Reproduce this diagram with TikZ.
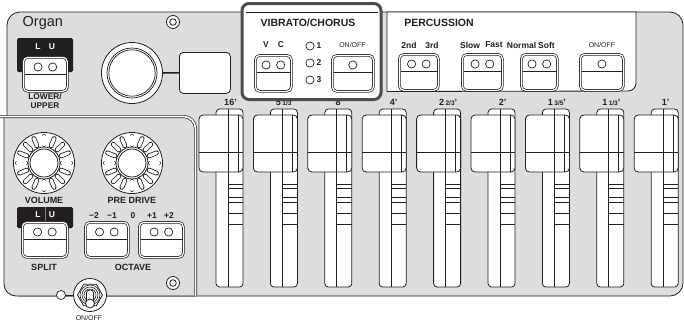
\documentclass[tikz,border=0pt]{standalone}
\usepackage{fontspec}
\setmainfont{Liberation Sans}
\usetikzlibrary{calc}
\definecolor{panel}{HTML}{DCDDDD}
\definecolor{ink}{HTML}{231F20}
\definecolor{hl}{HTML}{4D4D4D}
\newcommand\fsz[1]{\fontsize{#1}{#1}\selectfont}
\newcommand\frsm[1]{{\fontsize{6.5}{6.5}\selectfont #1}}
\newcommand\twobtn[5]{%
  \node[btn, minimum width=#4pt, minimum height=#5pt, anchor=north west] (#1) at (#2,#3) {};
  \draw[ln] ($(#1.north west)+(1.6,17)$) -- ($(#1.north east)+(-1.6,17)$);
  \draw[led] ($(#1.north)+(-7.3,10)$) circle (4.1);
  \draw[led] ($(#1.north)+(7.3,10)$) circle (4.1);}
\newcommand\onebtn[5]{%
  \node[btn, minimum width=#4pt, minimum height=#5pt, anchor=north west] (#1) at (#2,#3) {};
  \draw[ln] ($(#1.north west)+(1.6,17)$) -- ($(#1.north east)+(-1.6,17)$);
  \draw[led] ($(#1.north)+(0,10)$) circle (4.1);}
\newcommand\knob[3]{%
  \coordinate (#1) at (#2,#3);
  \draw[ln, fill=white] (#1) circle (30.5);
  \foreach \a in {0,22.5,...,337.5}{
    \draw[ink, line width=4.8pt, line cap=round] ($(#1)+(\a:18.5)$) -- ($(#1)+(\a:26.5)$);
    \draw[white, line width=3.2pt, line cap=round] ($(#1)+(\a:18.5)$) -- ($(#1)+(\a:26.5)$);}
  \draw[ln, fill=white] (#1) circle (16);
  \draw[ln] (#1) circle (14);}
\begin{document}
\begin{tikzpicture}[x=1pt,y=-1pt, line join=round,
  every node/.style={inner sep=0pt, text=ink},
  ln/.style={draw=ink, line width=0.8pt},
  btn/.style={draw=ink, line width=0.7pt, double=white, double distance=1.2pt, fill=white, rounded corners=4.5pt},
  led/.style={draw=ink, line width=0.7pt, fill=white},
  ttl/.style={font=\fsz{10.5}\bfseries},
  lbl/.style={font=\fsz{8.5}\bfseries},
  sml/.style={font=\fsz{7}},
  sec/.style={font=\fsz{9}\bfseries},
  flab/.style={font=\fsz{9}\bfseries}]
\useasboundingbox (0,0) rectangle (684,325);
% main panel
\draw[ln, fill=panel, rounded corners=13pt] (7,12) rectangle (683,296);
% lower-left sub-panel
\fill[panel] (4,116.5) -- (4,284) arc[start angle=180,end angle=90,radius=12] -- (195.5,296) -- (195.5,128.5) arc[start angle=0,end angle=-90,radius=12] -- cycle;
\draw[ln] (4,116.5) -- (4,284) arc[start angle=180,end angle=90,radius=12] -- (195.5,296);
\draw[ln, line width=0.7pt, double=white, double distance=1.6pt] (0,116.5) -- (183.5,116.5) arc[start angle=-90,end angle=0,radius=12] -- (195.5,296);
% top-left
\node[font=\fsz{14.5}, anchor=west] (organ) at (22.5,23) {Organ};
\draw[ln, fill=white] (173,22) circle (6.5);
\draw[ln] (173,22) circle (3.3);
\fill[ink, rounded corners=1.5pt] (17,38) rectangle (73,72);
\node[lbl, text=white] (lul) at (38,47) {L};
\node[lbl, text=white] (luu) at (52,47) {U};
\twobtn{lub}{23}{57}{44}{34}
\node[font=\fontsize{8.3}{9}\selectfont\bfseries, align=center] (lowup) at (45,101.5) {LOWER/\\UPPER};
\draw[ln, fill=white] (132,73) circle (30.5);
\draw[ln, line width=0.7pt] (132,73) circle (25) (132,73) circle (23.2);
\node[ln, fill=white, rounded corners=4pt, minimum width=51pt, minimum height=41pt, anchor=north west] (disp) at (179,52) {};
\draw[ink, line width=1.5pt] (162.5,73) -- (disp.west);
% drawbar labels
\node[flab] (f0) at (230.5,102) {16'};
\node[flab] (f1) at (284.9,102.5) {5\,\frsm{1/3}'};
\node[flab] (f2) at (339.3,102.5) {8'};
\node[flab] (f3) at (393.7,102) {4'};
\node[flab] (f4) at (448.1,102) {2\,\frsm{2/3}'};
\node[flab] (f5) at (502.5,102) {2'};
\node[flab] (f6) at (556.9,102) {1\,\frsm{3/5}'};
\node[flab] (f7) at (611.3,102) {1\,\frsm{1/3}'};
\node[flab] (f8) at (665.7,102) {1'};
% vibrato / chorus
\draw[draw=hl, line width=3pt, fill=white, rounded corners=7pt] (242,3.5) rectangle (381,99.5);
\draw[ink, line width=0.6pt] (245.5,12) -- (377.5,12);
\node[ttl] (vibt) at (308,22.5) {VIBRATO/CHORUS};
\node[lbl] (vl) at (266,45) {V};
\node[lbl] (cl) at (281,45) {C};
\twobtn{vcb}{255}{55}{36}{36}
\foreach \n/\yy in {1/46,2/63,3/80}{
  \node[led, circle, minimum size=8.2pt] (vled\n) at (310,\yy) {};
  \node[lbl, anchor=west] (vnum\n) at (316.5,\yy) {\n};}
\node[sml] (vonl) at (352.5,45) {ON/OFF};
\onebtn{vob}{332}{55}{41}{36}
% percussion
\draw[ln, fill=white] (387,12) -- (636,12) -- (636,83) arc[start angle=0,end angle=90,radius=8] -- (387,91.5) -- cycle;
\node[ttl] (perct) at (439,22.5) {PERCUSSION};
\node[lbl] (p2) at (409,45) {2nd};
\node[lbl] (p3) at (432,45) {3rd};
\twobtn{pb1}{399}{54}{39}{36}
\node[lbl] (psl) at (470,45) {Slow};
\node[lbl] (pfa) at (494,45) {Fast};
\twobtn{pb2}{462}{54}{40}{36}
\node[lbl] (pno) at (521.5,45) {Normal};
\node[lbl] (pso) at (546.5,45) {Soft};
\twobtn{pb3}{521}{54}{36}{36}
\node[sml] (ponl) at (602,45) {ON/OFF};
\onebtn{pb4}{580}{54}{43}{36}
% drawbars
\foreach \i in {0,...,8}{
  \pgfmathsetmacro\cl{199+54.4*\i}
  \draw[ln, fill=white, rounded corners=3.5pt] (\cl+17,109) rectangle (\cl+44,287);
  \draw[ln] (\cl+29,109) -- (\cl+29,287);
  \foreach \h in {184,188,197,202,213,224} \draw[ink, line width=0.7pt] (\cl+29,\h) -- (\cl+44,\h);
  \draw[ln, fill=white, rounded corners=4pt] (\cl,115) rectangle (\cl+44,172);
  \draw[ln] (\cl,152) -- (\cl+44,152);
  \draw[ln] (\cl+29,115) -- (\cl+29,172);
  \draw[ln] (\cl+39,115) -- (\cl+39,172);
}
% knobs
\knob{vol}{44}{163}
\knob{pre}{132}{163}
\node[sec] (voll) at (44,200) {VOLUME};
\node[sec] (prel) at (132,200) {PRE DRIVE};
% split
\fill[ink, rounded corners=1.5pt] (17,207) rectangle (73,228);
\draw[gray, line width=0.8pt] (45,207) -- (45,222);
\node[lbl, text=white] (spl) at (38,215) {L};
\node[lbl, text=white] (spu) at (52,215) {U};
\twobtn{spb}{22}{222}{45}{35}
\node[sec] (splitl) at (44,267) {SPLIT};
% octave
\node[lbl] (o1) at (94,216) {−2};
\node[lbl] (o2) at (112,216) {−1};
\node[lbl] (o3) at (133,216) {0};
\node[lbl] (o4) at (152,216) {+1};
\node[lbl] (o5) at (169,216) {+2};
\twobtn{ocl}{85}{222}{43}{35}
\twobtn{ocr}{139}{222}{44}{35}
\node[sec] (octl) at (133,267) {OCTAVE};
\draw[ln, fill=white] (173,283) circle (6.5);
\draw[ln] (173,283) circle (3.3);
% power switch
\coordinate (sw) at (90,295);
\coordinate (swl) at (73.5,295);
\node[led, circle, minimum size=9pt] (pled) at (61,295) {};
\draw[ln] (pled.east) -- (swl);
\draw[ln, fill=white] (sw) circle (16.5);
\draw[ln] ($(sw)+(0:12.5)$) -- ($(sw)+(60:12.5)$) -- ($(sw)+(120:12.5)$) -- ($(sw)+(180:12.5)$) -- ($(sw)+(240:12.5)$) -- ($(sw)+(300:12.5)$) -- cycle;
\draw[ink, line width=0.6pt] (sw) circle (10) (sw) circle (8) (sw) circle (6);
\draw[ln, fill=white, rounded corners=3pt] ($(sw)+(-3.5,-5)$) rectangle ($(sw)+(3.5,8)$);
\draw[ln, fill=white] ($(sw)+(0,8.5)$) circle (4.5);
\node[sml] (swlab) at (89,318) {ON/OFF};
\end{tikzpicture}
\end{document}
